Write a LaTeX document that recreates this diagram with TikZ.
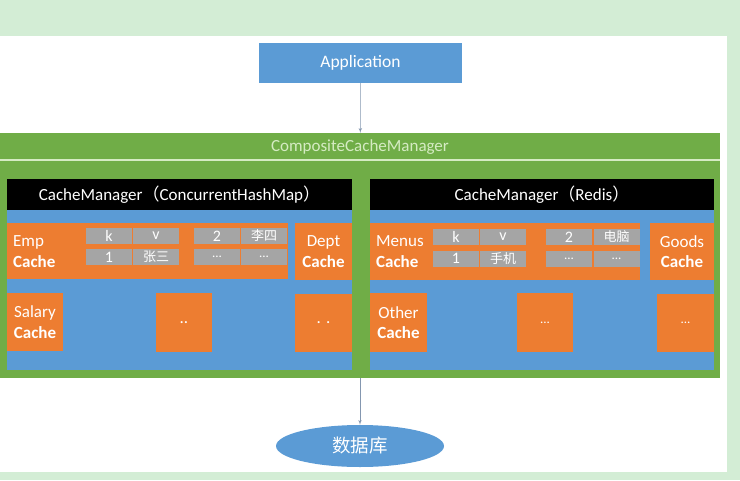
\documentclass[tikz,border=0pt]{standalone}
\usepackage{fontspec}
\setmainfont{Carlito}
\newfontfamily\cjk{Noto Sans CJK SC}
\usetikzlibrary{positioning, arrows, shapes}

\definecolor{pageback}{HTML}{D3EDD5}
\definecolor{appblue}{HTML}{5B9BD5}
\definecolor{cacheorange}{HTML}{ED7D31}
\definecolor{compgreen}{HTML}{70AD47}
\definecolor{cellgrey}{HTML}{A5A5A5}
\definecolor{titlegreen}{HTML}{D5EBC3}
\definecolor{arrowgrey}{HTML}{8497B0}

\begin{document}
\begin{tikzpicture}[
    x=1pt, y=-1pt,
    box/.style={rectangle, fill=appblue, text=white, inner sep=0pt, font=\fontsize{17.5}{19}\selectfont},
    header/.style={rectangle, fill=black, text=white, inner sep=0pt, minimum height=31pt, font=\fontsize{17}{19}\selectfont},
    panel/.style={rectangle, fill=appblue, inner sep=0pt, minimum height=160pt},
    cache/.style={rectangle, fill=cacheorange, text=white, inner sep=0pt, align=center, font=\fontsize{17}{20.5}\selectfont},
    cachelabel/.style={text=white, inner sep=0pt, align=left, anchor=west, font=\fontsize{17}{20.5}\selectfont},
    cell/.style={rectangle, fill=cellgrey, text=white, inner sep=0pt, minimum width=46pt, minimum height=16pt, font=\fontsize{16}{16}\selectfont},
    line/.style={draw=arrowgrey, -latex', line width=0.6pt}
    ]

    % page
    \fill[pageback] (0,0) rectangle (740,480);
    \fill[white] (0,36) rectangle (727,472);
    \useasboundingbox (0,0) rectangle (740,480);

    \node[box, minimum width=203pt, minimum height=40pt] (app) at (360.5,63) {Application};

    % composite manager
    \node[rectangle, fill=compgreen, inner sep=0pt, minimum width=720pt, minimum height=245pt] (comp) at (360,255.5) {};
    \node[text=titlegreen, font=\fontsize{17}{19}\selectfont] (comptitle) at (360,147) {CompositeCacheManager};
    \draw[titlegreen, line width=1.2pt] (0,160) -- (720,160);

    % left manager
    \node[header, minimum width=345pt] (hdrl) at (179.5,194.5) {CacheManager{\cjk （}ConcurrentHashMap{\cjk ）}};
    \node[panel, minimum width=345pt] (panl) at (179.5,290) {};
    \node[cache, minimum width=281pt, minimum height=56pt] (emp) at (147.5,251) {};
    \node[cachelabel] (emplbl) at (13,251.5) {Emp\\\textbf{Cache}};
    \node[cache, minimum width=57pt, minimum height=57pt] (dept) at (323.5,251.5) {Dept\\\textbf{Cache}};
    \node[cache, minimum width=56pt, minimum height=58pt] (salary) at (35,322) {Salary\\\textbf{Cache}};
    \node[cache, minimum width=56pt, minimum height=59pt] (moreL1) at (184,322.5) {..};
    \node[cache, minimum width=57pt, minimum height=58pt] (moreL2) at (323.5,323) {. .};

    \node[cell] (empk) at (109,236) {k};
    \node[cell] (empv) at (156,236) {v};
    \node[cell] (emp2) at (217,236) {2};
    \node[cell] (emp2v) at (264,236) {\cjk\fontsize{13}{14}\selectfont 李四};
    \node[cell] (emp1) at (109,257) {1};
    \node[cell] (emp1v) at (156,257) {\cjk\fontsize{13}{14}\selectfont 张三};
    \node[cell] (empdk) at (217,257) {\fontsize{13}{14}\selectfont ...};
    \node[cell] (empdv) at (264,257) {\fontsize{13}{14}\selectfont ...};

    % right manager
    \node[header, minimum width=344pt] (hdrr) at (542,194.5) {CacheManager{\cjk （}Redis{\cjk ）}};
    \node[panel, minimum width=344pt] (panr) at (542,290) {};
    \node[cache, minimum width=270pt, minimum height=57pt] (menus) at (505,251.5) {};
    \node[cachelabel] (menuslbl) at (376,251.5) {Menus\\\textbf{Cache}};
    \node[cache, minimum width=64pt, minimum height=57pt] (goods) at (682,251.5) {Goods\\\textbf{Cache}};
    \node[cache, minimum width=57pt, minimum height=59pt] (other) at (398.5,322.5) {Other\\\textbf{Cache}};
    \node[cache, minimum width=56pt, minimum height=59pt] (moreR1) at (545,322.5) {\fontsize{13}{14}\selectfont ...};
    \node[cache, minimum width=57pt, minimum height=58pt] (moreR2) at (685.5,323) {\fontsize{13}{14}\selectfont ...};

    \node[cell] (menk) at (456,237) {k};
    \node[cell] (menv) at (503,237) {v};
    \node[cell] (men2) at (569,237) {2};
    \node[cell] (men2v) at (616.5,237) {\cjk\fontsize{13}{14}\selectfont 电脑};
    \node[cell] (men1) at (456,258.5) {1};
    \node[cell] (men1v) at (503,258.5) {\cjk\fontsize{13}{14}\selectfont 手机};
    \node[cell] (mendk) at (569,258.5) {\fontsize{13}{14}\selectfont ...};
    \node[cell] (mendv) at (616.5,258.5) {\fontsize{13}{14}\selectfont ...};

    % database
    \node[ellipse, fill=appblue, text=white, inner sep=0pt, minimum width=168pt, minimum height=42pt, font=\cjk\fontsize{18.5}{20}\selectfont] (db) at (360,446) {数据库};

    \draw[line] (app) -- (comp);
    \draw[line] (comp) -- (db);

  \end{tikzpicture}
\end{document}
